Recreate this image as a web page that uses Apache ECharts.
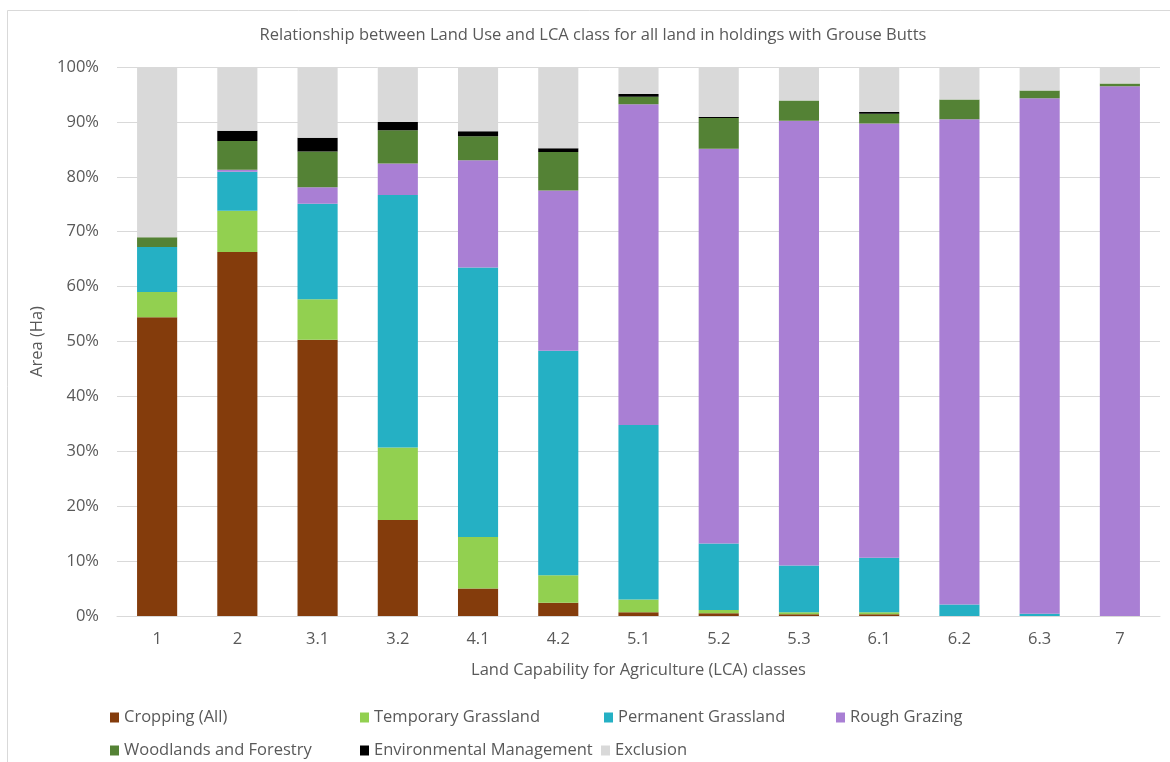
<!DOCTYPE html>
<html>
<head>
<meta charset="utf-8">
<script src="https://cdn.jsdelivr.net/npm/echarts@6/dist/echarts.min.js"></script>
<style>
html,body{margin:0;padding:0;background:#fff;}
#chart{width:1170px;height:762px;}
</style>
</head>
<body>
<div id="chart"></div>
<script>
const categories = ['1','2','3.1','3.2','4.1','4.2','5.1','5.2','5.3','6.1','6.2','6.3','7'];
const cropping  = [54.4, 66.3, 50.3, 17.5, 5.0, 2.4, 0.7, 0.5, 0.3, 0.3, 0, 0, 0];
const temporary = [4.6, 7.5, 7.4, 13.2, 9.4, 5.0, 2.3, 0.6, 0.4, 0.4, 0, 0, 0];
const permanent = [8.2, 7.1, 17.4, 46.0, 49.1, 40.9, 31.8, 12.1, 8.5, 9.9, 2.1, 0.4, 0];
const rough     = [0, 0.4, 3.0, 5.7, 19.5, 29.2, 58.4, 71.9, 81.0, 79.1, 88.4, 93.9, 96.5];
const woodlands = [1.8, 5.2, 6.5, 6.1, 4.4, 7.0, 1.4, 5.6, 3.7, 1.8, 3.6, 1.4, 0.5];
const envMgmt   = [0, 1.9, 2.5, 1.5, 0.9, 0.7, 0.5, 0.2, 0, 0.3, 0, 0, 0];
const exclusion = [31.0, 11.6, 12.9, 10.0, 11.7, 14.8, 4.9, 9.1, 6.1, 8.2, 5.9, 4.3, 3.0];

const seriesDefs = [
  {name:'Cropping (All)', data:cropping, color:'#843C0C'},
  {name:'Temporary Grassland', data:temporary, color:'#92D050'},
  {name:'Permanent Grassland', data:permanent, color:'#25B0C4'},
  {name:'Rough Grazing', data:rough, color:'#A97FD4'},
  {name:'Woodlands and Forestry', data:woodlands, color:'#548235'},
  {name:'Environmental Management', data:envMgmt, color:'#000000'},
  {name:'Exclusion', data:exclusion, color:'#D9D9D9'}
];

const FONT = 'Open Sans';
const TXT = '#595959';

const legendPos = [
  [110,709],[360,709],[604,709],[836,709],
  [110,742],[360,742],[601,742]
];

const chart = echarts.init(document.getElementById('chart'));
chart.setOption({
  animation:false,
  backgroundColor:'#fff',
  textStyle:{fontFamily:FONT},
  graphic:[{type:'rect', shape:{x:7.5,y:10.5,width:1300,height:900}, style:{fill:'none', stroke:'#D9D9D9', lineWidth:1}, silent:true}],
  title:{
    text:'Relationship between Land Use and LCA class for all land in holdings with Grouse Butts',
    left:593, top:27, textAlign:'center', padding:0,
    textStyle:{fontFamily:FONT, fontSize:16.5, fontWeight:'normal', color:TXT}
  },
  legend: seriesDefs.map((s,i)=>({
    data:[s.name], left:legendPos[i][0], top:legendPos[i][1], padding:0,
    icon:'rect', itemWidth:9, itemHeight:10, itemGap:0,
    textStyle:{fontFamily:FONT, fontSize:16.5, color:TXT},
    selectedMode:false
  })),
  grid:{left:117, right:10, top:67, bottom:146},
  xAxis:{
    type:'category', data:categories,
    axisLine:{lineStyle:{color:'#D9D9D9', width:1}},
    axisTick:{show:false},
    axisLabel:{fontFamily:FONT, fontSize:16.5, color:TXT, margin:15},
    name:'Land Capability for Agriculture (LCA) classes',
    nameLocation:'middle', nameGap:46,
    nameTextStyle:{fontFamily:FONT, fontSize:16.5, color:TXT, verticalAlign:'top'}
  },
  yAxis:{
    type:'value', min:0, max:100, interval:10,
    axisLine:{show:false}, axisTick:{show:false},
    axisLabel:{fontFamily:FONT, fontSize:16.5, color:TXT, margin:18, formatter:'{value}%'},
    splitLine:{lineStyle:{color:'#D9D9D9', width:1}},
    name:'Area (Ha)', nameLocation:'middle', nameGap:70,
    nameTextStyle:{fontFamily:FONT, fontSize:16.5, color:TXT}
  },
  series: seriesDefs.map(s=>({
    name:s.name, type:'bar', stack:'total', data:s.data, barWidth:'50%',
    itemStyle:{color:s.color}
  }))
});
</script>
</body>
</html>
